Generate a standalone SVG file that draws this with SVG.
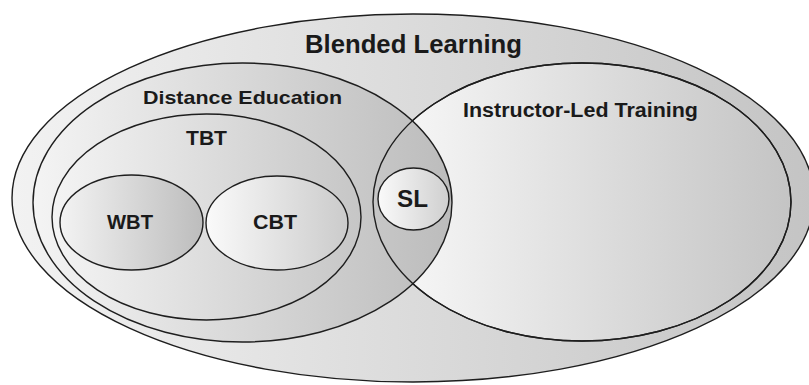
<svg xmlns="http://www.w3.org/2000/svg" xmlns:xlink="http://www.w3.org/1999/xlink" width="809" height="385" viewBox="0 0 809 385">
<defs>
<linearGradient id="gOuter" x1="0" y1="0" x2="1" y2="0"><stop offset="0" stop-color="#f2f2f2"/><stop offset="1" stop-color="#c4c4c4"/></linearGradient>
<linearGradient id="gDE" x1="0" y1="0" x2="1" y2="0"><stop offset="0" stop-color="#f4f4f4"/><stop offset="1" stop-color="#bcbcbc"/></linearGradient>
<linearGradient id="gTBT" x1="0" y1="0" x2="1" y2="0"><stop offset="0" stop-color="#f4f4f4"/><stop offset="1" stop-color="#c6c6c6"/></linearGradient>
<linearGradient id="gWBT" x1="0" y1="0" x2="1" y2="0"><stop offset="0" stop-color="#f3f3f3"/><stop offset="1" stop-color="#bdbdbd"/></linearGradient>
<linearGradient id="gCBT" x1="0" y1="0" x2="1" y2="0"><stop offset="0" stop-color="#fafafa"/><stop offset="1" stop-color="#cbcbcb"/></linearGradient>
<linearGradient id="gILT" x1="0" y1="0" x2="1" y2="0"><stop offset="0" stop-color="#fafafa"/><stop offset="1" stop-color="#c4c4c4"/></linearGradient>
<linearGradient id="gSL" x1="0" y1="0" x2="1" y2="0"><stop offset="0" stop-color="#fafafa"/><stop offset="1" stop-color="#cfcfcf"/></linearGradient>
<ellipse id="iltShape" cx="582" cy="202" rx="209" ry="139"/>
</defs>
<style>
.sh{stroke:#1e1e1e;stroke-width:1.4}
.outline{fill:none;stroke:#1e1e1e;stroke-width:1.4}
text{font-family:"Liberation Sans",Arial,sans-serif;font-weight:bold;fill:#1a1a1a;text-anchor:middle}
</style>
<rect width="809" height="385" fill="#ffffff"/>
<g id="blended-learning">
<ellipse class="sh" cx="413" cy="198" rx="401" ry="184" fill="url(#gOuter)"/>
<text x="413.5" y="53" font-size="25" textLength="217" lengthAdjust="spacingAndGlyphs">Blended Learning</text>
</g>
<g id="instructor-led-training">
<use xlink:href="#iltShape" class="sh" fill="url(#gILT)"/>
<text x="580.5" y="117" font-size="19.5" textLength="235" lengthAdjust="spacingAndGlyphs">Instructor-Led Training</text>
</g>
<g id="distance-education">
<ellipse class="sh" cx="242.5" cy="202.5" rx="209.5" ry="139.5" fill="url(#gDE)"/>
<text x="242.5" y="104" font-size="19" textLength="199" lengthAdjust="spacingAndGlyphs">Distance Education</text>
</g>
<g id="tbt">
<ellipse class="sh" cx="206.5" cy="217" rx="154.5" ry="103" fill="url(#gTBT)"/>
<text x="206.5" y="145" font-size="19.5" textLength="41" lengthAdjust="spacingAndGlyphs">TBT</text>
</g>
<g id="wbt">
<ellipse class="sh" cx="131.5" cy="222.5" rx="71.5" ry="47.5" fill="url(#gWBT)"/>
<text x="130" y="229" font-size="19.5" textLength="46" lengthAdjust="spacingAndGlyphs">WBT</text>
</g>
<g id="cbt">
<ellipse class="sh" cx="277" cy="223" rx="71" ry="47" fill="url(#gCBT)"/>
<text x="275" y="229" font-size="19.5" textLength="44" lengthAdjust="spacingAndGlyphs">CBT</text>
</g>
<g id="ilt-outline">
<use xlink:href="#iltShape" class="outline"/>
</g>
<g id="sl">
<ellipse class="sh" cx="413.5" cy="199" rx="35.5" ry="31" fill="url(#gSL)"/>
<text x="412.5" y="207" font-size="23.5" textLength="31" lengthAdjust="spacingAndGlyphs">SL</text>
</g>
<g id="connectors"/>
</svg>
